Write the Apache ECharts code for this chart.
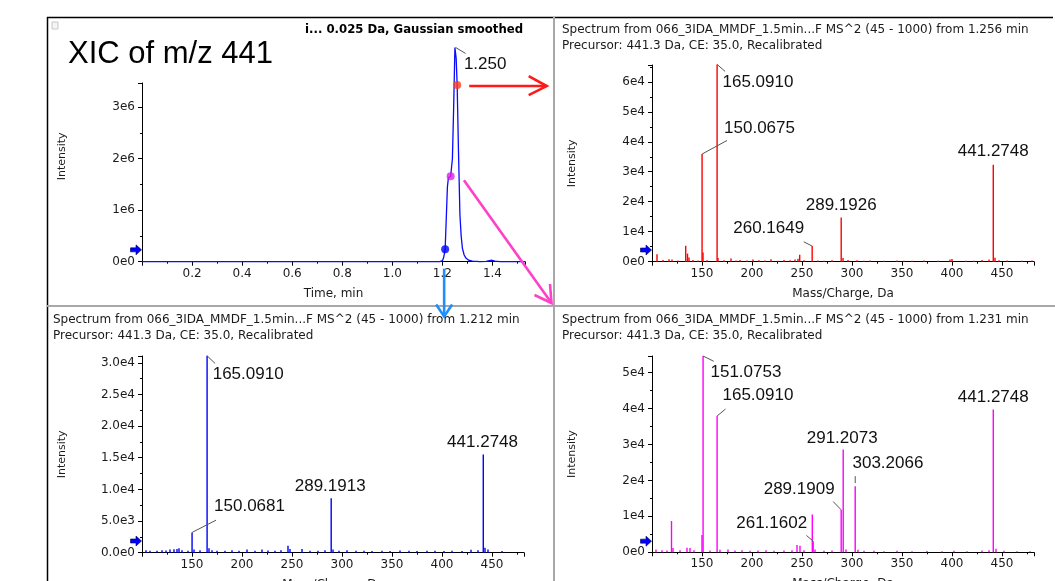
<!DOCTYPE html>
<html><head><meta charset="utf-8">
<script src="https://cdn.jsdelivr.net/npm/echarts@6/dist/echarts.min.js"></script>
<style>html,body{margin:0;padding:0;background:#fff;}#c{width:1055px;height:581px;}</style>
</head><body><div id="c"></div>
<script>
// ---------------- DATA ----------------
const xicTime = [0, 1.190, 1.200, 1.205, 1.211, 1.216, 1.220, 1.224, 1.233, 1.240, 1.245, 1.248, 1.250, 1.255, 1.259, 1.264, 1.270, 1.275, 1.280, 1.287, 1.294, 1.305, 1.320, 1.350, 1.375, 1.388, 1.398, 1.410, 1.430, 1.530];
const xicIntensity = [0, 0, 0.02e6, 0.08e6, 0.24e6, 0.91e6, 1.45e6, 1.63e6, 1.66e6, 2.0e6, 3.0e6, 3.7e6, 4.16e6, 3.95e6, 3.43e6, 2.21e6, 0.91e6, 0.5e6, 0.26e6, 0.13e6, 0.07e6, 0.03e6, 0.01e6, 0, 0.005e6, 0.02e6, 0.028e6, 0.012e6, 0, 0];
const xicDotTime = [1.211, 1.233, 1.259];
const xicDotIntensity = [0.24e6, 1.66e6, 3.43e6];
const xicPeakLabel = [1.250, 4.16e6, '1.250'];
const xicThreshold = 0.23e6;

// Spectrum at 1.256 min (red)
const specA = [[105,2500],[111,600],[117,800],[120,700],[126,400],[133.7,5300],[135.5,2700],[137,1400],[141,600],[146,400],[150.0675,35900],[151,3100],[155,500],[165.0910,65800],[166,1200],[172,500],[179,1100],[184,400],[188,600],[195,400],[201,700],[207,500],[213,400],[219,800],[226,300],[232,600],[238,500],[243,700],[246,1000],[247.7,2300],[252,500],[260.1649,5200],[266,400],[272,300],[280,500],[289.1926,14700],[291,1200],[296,600],[305,500],[312,300],[318,400],[332,300],[345,400],[352,300],[360,300],[372,400],[386,300],[398,700],[400,900],[414,300],[422,300],[430,600],[437,700],[441.2748,32300],[443,1300],[447,500],[455,400],[470,300],[480,400]];
const specALabeled = [165.0910, 150.0675, 441.2748, 289.1926, 260.1649];
const specAThreshold = 3900;

// Spectrum at 1.212 min (blue)
const specB = [[104,400],[108,300],[115,300],[120,400],[124,350],[128,500],[132,550],[135,600],[137,700],[140,400],[146,300],[150.0681,3200],[152,500],[158,400],[165.0910,31100],[167,700],[170,400],[175,300],[183,300],[190,400],[197,300],[205,500],[213,300],[220,500],[226,350],[233,300],[239,400],[246,1100],[248,600],[260,600],[268,300],[276,300],[283,400],[289.1913,8600],[291,500],[297,300],[305,400],[314,300],[322,300],[330,250],[340,300],[348,250],[358,350],[367,300],[375,250],[385,300],[393,300],[402,250],[410,300],[420,250],[429,450],[436,400],[441.2748,15500],[443,800],[446,500],[460,250]];
const specBLabeled = [165.0910, 150.0681, 289.1913, 441.2748];
const specBThreshold = 1850;

// Spectrum at 1.231 min (magenta)
const specC = [[104,800],[110,600],[115,500],[119.5,8700],[121,1200],[128,600],[135,1300],[138,1200],[142,600],[150,4800],[151.0753,54600],[158,500],[165.0910,37900],[168,700],[176,800],[183,500],[190,600],[198,400],[206,500],[214,600],[222,400],[232,500],[240,600],[245,2000],[248,1800],[252,600],[260.3,10500],[261.1602,3100],[263,800],[272,400],[280,500],[289.1909,11800],[291.2073,28600],[294,800],[303.2066,18400],[306,700],[312,400],[322,400],[332,300],[345,400],[360,300],[375,350],[390,300],[402,400],[415,300],[430,500],[437,600],[441.2748,39700],[444,1000],[452,400],[465,300],[478,300]];
const specCLabeled = [151.0753, 165.0910, 441.2748, 291.2073, 303.2066, 289.1909, 261.1602];
const specCThreshold = 3100;

const xicTicksTitle = 'i... 0.025 Da, Gaussian smoothed';
const specTitleA = 'Spectrum from 066_3IDA_MMDF_1.5min...F MS^2 (45 - 1000) from 1.256 min\nPrecursor: 441.3 Da, CE: 35.0, Recalibrated';
const specTitleB = 'Spectrum from 066_3IDA_MMDF_1.5min...F MS^2 (45 - 1000) from 1.212 min\nPrecursor: 441.3 Da, CE: 35.0, Recalibrated';
const specTitleC = 'Spectrum from 066_3IDA_MMDF_1.5min...F MS^2 (45 - 1000) from 1.231 min\nPrecursor: 441.3 Da, CE: 35.0, Recalibrated';

// ---------------- STYLE ----------------
const SF = 'DejaVu Sans';
const LF = 'Liberation Sans';
const TXT = '#1a1a1a';
const dotColors = ['#0000ff', '#e21ee2', '#ff3a1a'];
// label placement (pixels relative to peak top): dx, dy, align, leader [x1,y1,x2,y2] or null
const specAStyle = [[5.4,18,'left',[0,0,8,7]],[22,-26,'left',[0,0,25,-13.6]],[0,-13.3,'center',null],[0,-12,'center',null],[-8,-17.7,'right',[-8.4,-4.3,0,0]]];
const specBStyle = [[5.6,18.3,'left',[0,0,8,7.6]],[22,-26.3,'left',[0,0,24,-12.3]],[-1,-11.7,'center',null],[-0.7,-12.7,'center',null]];
const specCStyle = [[7.4,16,'left',[0,0,10.7,5.3]],[5.4,-20.3,'left',[0,0,8.4,-7]],[0,-12.6,'center',null],[-1,-11.6,'center',null],[-2.7,-22.7,'left',[0,-3,0,-10]],[-6.6,-20.7,'right',[-8,-8.3,0,0]],[-6,-18.3,'right',[-6.7,-5.7,0,0]]];
const xicLabelStyle = [9,17,'left',[0.7,0,10.7,6]];

const grids = [
  {left:142, top:83, width:383, height:178.7, outerBoundsMode:'none', containLabel:false},
  {left:652, top:65, width:382, height:196.7, outerBoundsMode:'none', containLabel:false},
  {left:142, top:356, width:382, height:196.7, outerBoundsMode:'none', containLabel:false},
  {left:652, top:356, width:382, height:196.3, outerBoundsMode:'none', containLabel:false}
];

function xAx(i, min, max, interval, name, fmt) {
  return {type:'value', gridIndex:i, min:min, max:max, interval:interval, name:name,
    nameLocation:'middle', nameGap:26,
    nameTextStyle:{fontFamily:SF, fontSize:12, color:TXT},
    axisLine:{onZero:false, lineStyle:{color:'#000', width:1}},
    axisTick:{show:true, length:4, lineStyle:{color:'#000'}},
    minorTick:{show:true, splitNumber:2, length:2, lineStyle:{color:'#000'}},
    splitLine:{show:false}, minorSplitLine:{show:false},
    axisLabel:{showMinLabel:false, showMaxLabel:false, margin:6, fontFamily:SF, fontSize:12, color:TXT, formatter:fmt}};
}
function yAx(i, max, interval, fmt) {
  return {type:'value', gridIndex:i, min:0, max:max, interval:interval, name:'Intensity',
    nameLocation:'middle', nameGap:74, nameRotate:90,
    nameTextStyle:{fontFamily:SF, fontSize:11, color:TXT, padding: i===0 ? [0,0,0,32] : [0,0,0,0]},
    axisLine:{show:true, onZero:false, lineStyle:{color:'#000', width:1}},
    axisTick:{show:true, length:4, lineStyle:{color:'#000'}},
    minorTick:{show:true, splitNumber:2, length:2, lineStyle:{color:'#000'}},
    splitLine:{show:false}, minorSplitLine:{show:false},
    axisLabel:{showMaxLabel:false, margin:7, fontFamily:SF, fontSize:12, color:TXT, formatter:fmt}};
}
const fmtE6 = v => v === 0 ? '0e0' : Math.round(v/1e6) + 'e6';
const fmtE4 = v => v === 0 ? '0e0' : Math.round(v/1e4) + 'e4';
const fmtB = v => v === 0 ? '0.0e0' : (v < 1e4 ? (v/1e3).toFixed(1) + 'e3' : (v/1e4).toFixed(1) + 'e4');
const fmtT = v => v.toFixed(1);
const fmtM = v => String(Math.round(v));

const arrowPath = 'path://M0,3 L5,3 L5,0 L10,5 L5,10 L5,7 L0,7 Z';
function thresh(xmin, val) {
  return {symbol:arrowPath, symbolSize:[11,10], symbolOffset:[-6,0], silent:true,
    itemStyle:{color:'#0000ff', borderColor:'#000050', borderWidth:0.6},
    label:{show:false}, data:[{coord:[xmin, val]}]};
}
function barSeries(i, data, color, th) {
  return {type:'bar', xAxisIndex:i, yAxisIndex:i, data:data, barWidth:1.4, clip:false,
    itemStyle:{color:color}, silent:true, markPoint:thresh(100, th), z:3};
}

const option = {
  animation:false,
  grid: grids,
  xAxis: [
    xAx(0, 0, 1.53, 0.2, 'Time, min', fmtT),
    xAx(1, 100, 482, 50, 'Mass/Charge, Da', fmtM),
    xAx(2, 100, 482, 50, 'Mass/Charge, Da', fmtM),
    xAx(3, 100, 482, 50, 'Mass/Charge, Da', fmtM)
  ],
  yAxis: [
    yAx(0, 3.47e6, 1e6, fmtE6),
    yAx(1, 65600, 10000, fmtE4),
    yAx(2, 31070, 5000, fmtB),
    yAx(3, 54600, 10000, fmtE4)
  ],
  series: [
    {type:'line', xAxisIndex:0, yAxisIndex:0, data:xicTime.map((t,k)=>[t, xicIntensity[k]]),
      showSymbol:false, clip:false, silent:true, lineStyle:{color:'#0a0aff', width:1.3}, z:4,
      markPoint:thresh(0, xicThreshold)},
    {type:'scatter', xAxisIndex:0, yAxisIndex:0, data:xicDotTime.map((t,k)=>[t, xicDotIntensity[k]]),
      symbolSize:8, silent:true, z:5, itemStyle:{color: p => dotColors[p.dataIndex]}},
    barSeries(1, specA, '#ff0000', specAThreshold),
    barSeries(2, specB, '#0000ff', specBThreshold),
    barSeries(3, specC, '#ff00ff', specCThreshold)
  ]
};

const chart = echarts.init(document.getElementById('c'));
chart.setOption(option);

function px(i, x, y) { return chart.convertToPixel({xAxisIndex:i, yAxisIndex:i}, [x, y]); }
const G = [];
function txt(x, y, s, font, align, vAlign, color, weight) {
  G.push({type:'text', x:x, y:y, z:100, silent:true,
    style:{text:s, fontFamily:font.family, fontSize:font.size, fontWeight:weight||'normal', fill:color||'#111',
      align:align, verticalAlign:vAlign, textAlign:align, textVerticalAlign:vAlign, lineHeight:font.lh}});
}
function ln(x1, y1, x2, y2, color, w) {
  G.push({type:'line', z:99, silent:true, shape:{x1:x1, y1:y1, x2:x2, y2:y2}, style:{stroke:color, lineWidth:w}});
}
function poly(pts, color, w) {
  G.push({type:'polyline', z:101, silent:true, shape:{points:pts}, style:{stroke:color, lineWidth:w, fill:null, lineJoin:'miter'}});
}
const labelFont = {family:LF, size:17};
function peakLabels(i, peaks, labeled, styles) {
  labeled.forEach((mz, k) => {
    const pk = peaks.find(p => p[0] === mz);
    const p = px(i, pk[0], pk[1]);
    const st = styles[k];
    txt(p[0] + st[0], p[1] + st[1], mz.toFixed(4), labelFont, st[2], 'middle', '#111');
    if (st[3]) ln(p[0]+st[3][0], p[1]+st[3][1], p[0]+st[3][2], p[1]+st[3][3], '#555', 1);
  });
}
peakLabels(1, specA, specALabeled, specAStyle);
peakLabels(2, specB, specBLabeled, specBStyle);
peakLabels(3, specC, specCLabeled, specCStyle);
{
  const p = px(0, xicPeakLabel[0], xicPeakLabel[1]);
  const st = xicLabelStyle;
  txt(p[0]+st[0], p[1]+st[1], xicPeakLabel[2], labelFont, st[2], 'middle', '#111');
  ln(p[0]+st[3][0], p[1]+st[3][1], p[0]+st[3][2], p[1]+st[3][3], '#555', 1);
}
// titles
txt(68, 54, 'XIC of m/z 441', {family:LF, size:31}, 'left', 'middle', '#000');
txt(523, 30, xicTicksTitle, {family:SF, size:11.7}, 'right', 'middle', '#000', 'bold');
txt(562, 38, specTitleA, {family:SF, size:12, lh:16}, 'left', 'middle', TXT);
txt(53, 328, specTitleB, {family:SF, size:12, lh:16}, 'left', 'middle', TXT);
txt(562, 328, specTitleC, {family:SF, size:12, lh:16}, 'left', 'middle', TXT);
// frame
ln(47, 17.5, 1053, 17.5, '#000', 1.5);
ln(47.5, 17, 47.5, 581, '#000', 1.5);
ln(554, 17, 554, 581, '#a8a8a8', 2);
ln(47, 306, 1055, 306, '#a8a8a8', 2);
G.push({type:'rect', z:99, silent:true, shape:{x:52, y:22, width:6, height:7}, style:{fill:'#f4f4f4', stroke:'#c8c8c8', lineWidth:1}});
// annotation arrows anchored at the XIC dots
{
  const r = px(0, xicDotTime[2], xicDotIntensity[2]);
  const y = r[1] + 1, x0 = r[0] + 12, x1 = 546.7;
  poly([[x0, y], [x1, y]], '#ff1a1a', 2.6);
  poly([[x1 - 18, y - 10], [x1, y], [x1 - 18, y + 9]], '#ff1a1a', 2.6);
  const b = px(0, xicDotTime[0], 0);
  const bx = b[0] - 1, by0 = b[1] + 7, by1 = 316.5;
  poly([[bx, by0], [bx, by1]], '#1e8fff', 2.6);
  poly([[bx - 8, by1 - 12], [bx, by1], [bx + 8, by1 - 12]], '#1e8fff', 2.6);
  const m = px(0, xicDotTime[1], xicDotIntensity[1]);
  const mx0 = m[0] + 13.3, my0 = m[1] + 4, mx1 = 551.5, my1 = 303;
  poly([[mx0, my0], [mx1, my1]], '#ff40c8', 2.6);
  poly([[mx1 - 17, my1 - 8], [mx1, my1], [mx1 - 1.5, my1 - 19]], '#ff40c8', 2.6);
}
chart.setOption({graphic:{elements:G}});
</script></body></html>
